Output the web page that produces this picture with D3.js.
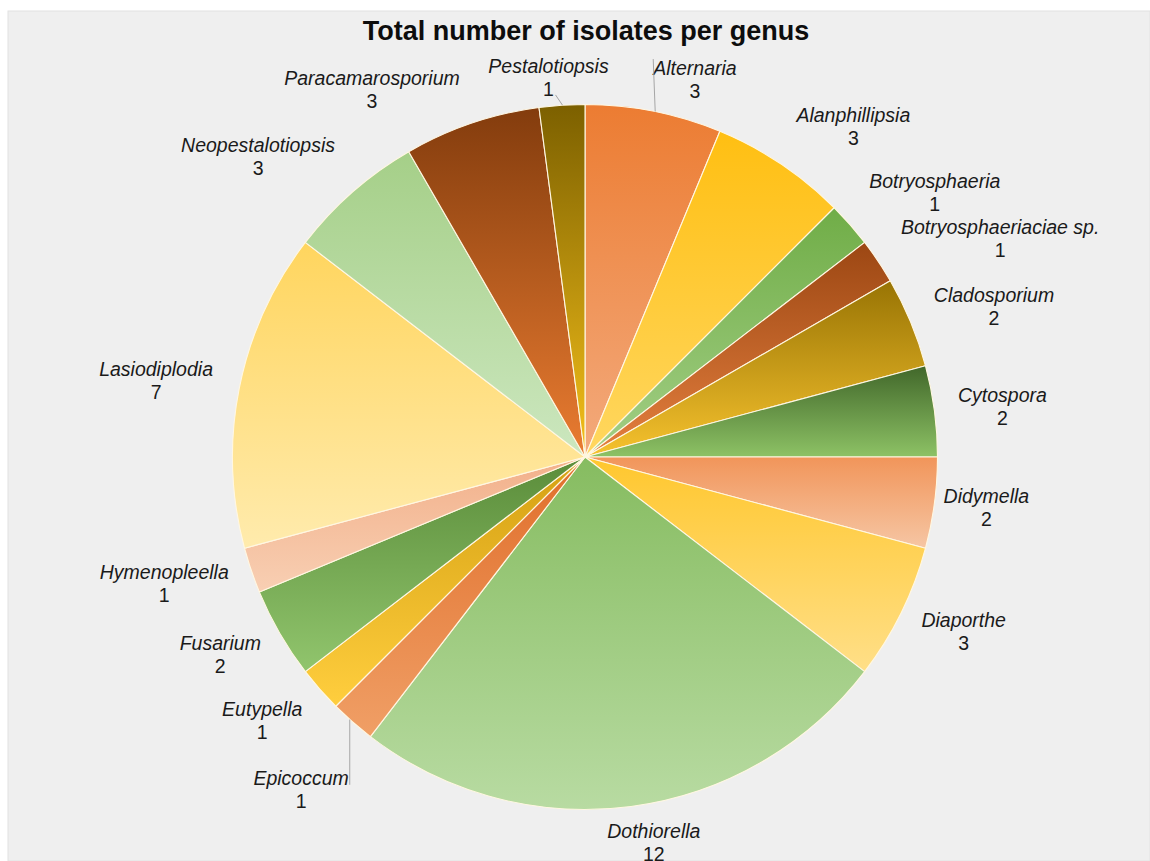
<!DOCTYPE html>
<html>
<head>
<meta charset="utf-8">
<script src="https://cdn.jsdelivr.net/npm/d3@7"></script>
<style>
  html, body { margin: 0; padding: 0; background: #ffffff; }
  svg { display: block; }
</style>
</head>
<body>
<svg id="chart" width="1150" height="861"></svg>
<script>
// ---------- data ----------
const genera = ["Alternaria","Alanphillipsia","Botryosphaeria","Botryosphaeriaciae sp.","Cladosporium","Cytospora","Didymella","Diaporthe","Dothiorella","Epicoccum","Eutypella","Fusarium","Hymenopleella","Lasiodiplodia","Neopestalotiopsis","Paracamarosporium","Pestalotiopsis"];
const isolates = [3,3,1,1,2,2,2,3,12,1,1,2,1,7,3,3,1];
const chartTitle = "Total number of isolates per genus";

// ---------- styles ----------
const gradTop = ["#EC7C32","#FFBF12","#70AD47","#9C4713","#987404","#41672A","#F1955A","#FFC72E","#86BC60","#E06E2A","#D4A012","#5A8C3A","#F2B08A","#FFD55E","#A5CF88","#833C0D","#7C6000"];
const gradBot = ["#F3AA7C","#FFD760","#A3CF86","#E5803F","#F6C22E","#8DC265","#F6C6A4","#FFDF88","#B8DBA2","#F09F66","#FFCE3E","#91C56D","#F8CFB3","#FFEBAD","#CCE7BF","#EA7C31","#F5C01A"];
// hand-tuned label nudges (px) relative to an outer label ring
const labelNudge = [[28,30],[35,14],[34,8],[66,10],[21,6],[1,0],[-15,-9],[2,-16],[14,-35],[-7,12],[-7,-18],[-1,-17],[-23,-13],[-17,1],[-50,11],[-78,26],[-9,35]];
// leader lines: index -> which edge of label to attach
const leaders = {0:{side:"left", dy:-16, dx:2}, 16:{side:"right", dy:-1, dx:7, value:true}, 9:{side:"right", dy:0, dx:0}};

const W = 1150, H = 861;
const cx = 585, cy = 457, R = 352.5, Rlabel = 420;

const svg = d3.select("#chart");

// background panel
svg.append("rect").attr("x", 8).attr("y", 11).attr("width", W - 8).attr("height", H - 11)
  .attr("fill", "#EFEFEF").attr("stroke", "#E2E2E2").attr("stroke-width", 1);

const defs = svg.append("defs");
genera.forEach((g, i) => {
  const lg = defs.append("linearGradient").attr("id", "g" + i)
    .attr("x1", 0).attr("y1", 0).attr("x2", 0).attr("y2", 1);
  lg.append("stop").attr("offset", "0%").attr("stop-color", gradTop[i]);
  lg.append("stop").attr("offset", "100%").attr("stop-color", gradBot[i]);
});

const data = genera.map((g, i) => ({ name: g, value: isolates[i], i }));
const pie = d3.pie().value(d => d.value).sort(null);
const arcs = pie(data);
const arc = d3.arc().innerRadius(0).outerRadius(R);

const gPie = svg.append("g").attr("transform", `translate(${cx},${cy})`);
gPie.selectAll("path").data(arcs).enter().append("path")
  .attr("d", arc)
  .attr("fill", d => `url(#g${d.data.i})`)
  .attr("stroke", "#FFF7E2")
  .attr("stroke-width", 1.1)
  .attr("stroke-linejoin", "round");

// title
svg.append("text").attr("x", 586).attr("y", 40).attr("text-anchor", "middle")
  .attr("font-family", "'Liberation Sans', Arial, sans-serif").attr("font-weight", "bold")
  .attr("font-size", 27).attr("fill", "#0D0D0D").text(chartTitle);

// labels
const fontFam = "'Liberation Sans', Arial, sans-serif";
const labelG = svg.append("g");
arcs.forEach((a, k) => {
  const mid = (a.startAngle + a.endAngle) / 2;
  const x = cx + Rlabel * Math.sin(mid) + labelNudge[k][0];
  const y = cy - Rlabel * Math.cos(mid) + labelNudge[k][1];
  const t = labelG.append("g");
  const n = t.append("text").attr("x", x).attr("y", y).attr("text-anchor", "middle")
    .attr("font-family", fontFam).attr("font-style", "italic").attr("font-size", 19.5)
    .attr("fill", "#1A1A1A").text(a.data.name);
  t.append("text").attr("x", x).attr("y", y + 23).attr("text-anchor", "middle")
    .attr("font-family", fontFam).attr("font-size", 19.5)
    .attr("fill", "#1A1A1A").text(a.data.value);
  const L = leaders[k];
  if (L) {
    let sx;
    if (L.value) {
      sx = x + 7;
    } else {
      const w = n.node().getComputedTextLength();
      sx = L.side === "left" ? x - w / 2 : x + w / 2 + 1;
    }
    const sy = y + (L.value ? 23 : 0) + L.dy;
    const ex = sx + L.dx;
    const ddx = ex - cx;
    const h = Math.sqrt(Math.max(0, R * R - ddx * ddx));
    const ey = sy < cy ? cy - h : cy + h;
    labelG.append("path")
      .attr("d", `M${sx},${sy}L${ex},${ey}`)
      .attr("stroke", "#A6A6A6").attr("stroke-width", 1).attr("fill", "none");
  }
});
</script>
</body>
</html>
